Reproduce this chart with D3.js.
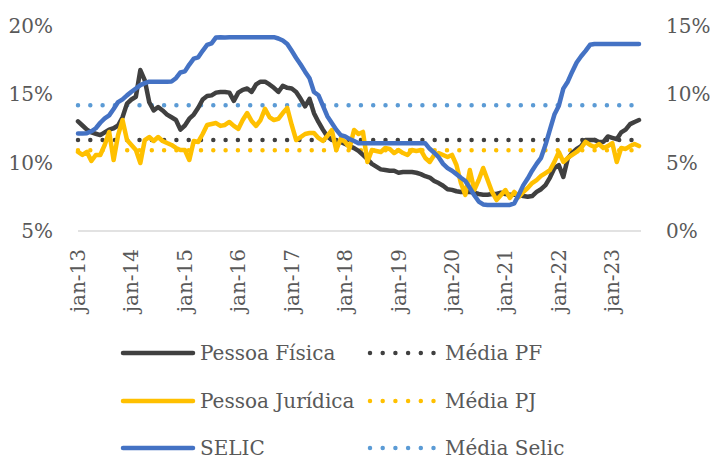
<!DOCTYPE html>
<html><head><meta charset="utf-8">
<script src="https://cdn.jsdelivr.net/npm/d3@7"></script>
<style>
html,body{margin:0;padding:0;background:#fff;}
svg{display:block;font-family:"DejaVu Serif",serif;}
</style></head>
<body>
<svg id="c" width="711" height="459"></svg>
<script>
// Monthly series, jan-13 .. jul-23 (127 points)
const pessoaFisica = [13.0,12.7,12.4,12.2,12.1,12.0,12.2,12.4,12.5,12.7,13.3,14.3,
14.6,14.8,16.75,16.0,14.4,13.8,14.05,13.8,13.5,13.3,13.1,12.4,
12.7,13.2,13.5,14.0,14.6,14.85,14.9,15.1,15.15,15.15,15.1,14.5,
15.1,15.3,15.4,15.15,15.7,15.9,15.9,15.7,15.45,15.15,15.6,15.45,
15.4,15.15,14.65,14.1,14.65,13.6,12.96,12.4,11.9,11.65,11.55,11.5,
11.35,11.2,11.05,10.85,10.55,10.25,9.9,9.7,9.5,9.45,9.4,9.4,
9.25,9.3,9.3,9.3,9.25,9.15,9.0,8.9,8.65,8.5,8.3,8.05,
8.0,7.9,7.85,7.85,7.85,7.8,7.7,7.65,7.65,7.7,7.7,7.8,
7.7,7.65,7.65,7.65,7.55,7.5,7.55,7.85,8.05,8.35,8.9,9.6,
9.8,8.95,10.3,10.7,11.0,11.2,11.65,11.65,11.65,11.5,11.5,11.9,
11.8,11.7,12.2,12.4,12.8,12.96,13.1];
const pessoaJuridica = [10.77,10.55,10.77,10.11,10.55,10.55,11.28,12.23,10.18,12.0,13.1,11.64,
11.28,10.91,9.96,11.64,11.86,11.57,11.86,11.57,11.42,11.28,11.06,10.91,
10.91,10.18,11.57,11.5,12.08,12.74,12.81,12.88,12.67,12.74,12.96,12.67,
12.45,13.1,13.61,13.03,12.67,13.1,13.91,13.32,13.1,13.18,13.61,13.98,
12.74,11.64,11.86,12.08,12.15,12.15,11.79,11.57,11.94,12.37,10.91,11.72,
11.5,11.06,12.37,12.08,12.23,10.04,10.91,10.84,10.77,11.06,10.99,10.69,
10.91,10.69,10.55,10.91,10.84,10.91,10.33,10.04,10.55,10.69,10.55,10.4,
10.55,9.82,8.5,7.63,9.45,7.99,8.72,9.6,8.72,7.85,7.26,7.63,
7.99,7.41,7.85,7.48,7.85,8.14,8.5,8.72,9.02,9.23,9.45,10.04,
10.77,10.04,10.33,10.55,10.77,11.06,11.5,11.28,11.13,11.35,11.06,11.2,
11.42,10.04,11.06,10.99,11.2,11.35,11.2];
const selic = [7.12,7.12,7.14,7.28,7.50,7.90,8.22,8.44,8.90,9.41,9.61,9.90,
10.16,10.40,10.65,10.79,10.90,10.90,10.90,10.90,10.90,10.91,11.15,11.57,
11.65,12.15,12.58,12.68,13.15,13.58,13.69,14.13,14.15,14.13,14.14,14.15,
14.15,14.15,14.15,14.15,14.15,14.15,14.15,14.15,14.15,14.05,13.90,13.65,
13.15,12.63,12.15,11.63,11.15,10.15,9.91,9.15,8.38,7.89,7.40,7.00,
6.90,6.72,6.57,6.40,6.40,6.40,6.40,6.40,6.40,6.40,6.40,6.40,
6.40,6.40,6.40,6.40,6.40,6.40,6.40,6.00,5.71,5.38,4.90,4.59,
4.40,4.15,3.89,3.65,3.15,2.61,2.15,1.94,1.90,1.90,1.90,1.90,
1.90,1.90,2.02,2.65,3.33,3.83,4.40,4.90,5.34,6.29,7.40,8.50,
9.15,10.39,10.90,11.63,12.30,12.76,13.15,13.59,13.65,13.65,13.65,13.65,
13.65,13.65,13.65,13.65,13.65,13.65,13.65];
const mediaPF = 11.65, mediaPJ = 10.9, mediaSelic = 9.17;
const tickLabels = ["jan-13","jan-14","jan-15","jan-16","jan-17","jan-18","jan-19","jan-20","jan-21","jan-22","jan-23"];
const leftTicks = [5,10,15,20];
const rightTicks = [0,5,10,15];
const legendItems = [
  {name:"Pessoa Física", kind:"line", color:"#404040"},
  {name:"Média PF", kind:"dot", color:"#404040"},
  {name:"Pessoa Jurídica", kind:"line", color:"#FFC000"},
  {name:"Média PJ", kind:"dot", color:"#FFC000"},
  {name:"SELIC", kind:"line", color:"#4472C4"},
  {name:"Média Selic", kind:"dot", color:"#5B9BD5"}
];

const svg = d3.select("#c");
const n = selic.length;
const x = d3.scaleLinear().domain([0, n-1]).range([78, 639]);
const yL = d3.scaleLinear().domain([5,20]).range([231, 25.5]);
const yR = d3.scaleLinear().domain([0,15]).range([231, 25.5]);
const textColor = "#595959";

// baseline
svg.append("line").attr("x1", x(0)).attr("x2", 641).attr("y1", yL(5)).attr("y2", yL(5))
  .attr("stroke", "#d9d9d9").attr("stroke-width", 1.3);

// left axis labels
svg.append("g").selectAll("text").data(leftTicks).join("text")
  .attr("x", 53).attr("y", d => yL(d)).attr("dy", "0.35em").attr("text-anchor","end")
  .attr("font-size", 20).attr("fill", textColor).text(d => d + "%");
// right axis labels
svg.append("g").selectAll("text").data(rightTicks).join("text")
  .attr("x", 666).attr("y", d => yR(d)).attr("dy", "0.35em").attr("text-anchor","start")
  .attr("font-size", 20).attr("fill", textColor).text(d => d + "%");
// x labels
svg.append("g").selectAll("text").data(tickLabels).join("text")
  .attr("transform", (d,i) => `translate(${x(i*12)},249) rotate(-90)`)
  .attr("dy", "0.35em").attr("text-anchor","end")
  .attr("font-size", 20).attr("fill", textColor).text(d => d);

// mean dotted lines
function dotted(val, scale, color) {
  svg.append("line").attr("x1", x(0)).attr("x2", x(n-1)).attr("y1", scale(val)).attr("y2", scale(val))
    .attr("stroke", color).attr("stroke-width", 4.5).attr("stroke-linecap","round")
    .attr("stroke-dasharray", "0 12.3");
}
dotted(mediaPF, yL, "#404040");
dotted(mediaPJ, yL, "#FFC000");
dotted(mediaSelic, yR, "#5B9BD5");

function series(vals, scale, color) {
  const line = d3.line().x((d,i) => x(i)).y(d => scale(d));
  svg.append("path").datum(vals).attr("d", line).attr("fill","none")
    .attr("stroke", color).attr("stroke-width", 4.5)
    .attr("stroke-linejoin","round").attr("stroke-linecap","round");
}
series(pessoaFisica, yL, "#404040");
series(pessoaJuridica, yL, "#FFC000");
series(selic, yR, "#4472C4");

// legend
const rowsY = [353, 401, 448];
const colX = [123, 368];
legendItems.forEach((it, k) => {
  const r = Math.floor(k/2), c = k % 2;
  const g = svg.append("g");
  const yy = rowsY[r];
  if (it.kind === "line") {
    g.append("line").attr("x1", colX[c]).attr("x2", colX[c]+70).attr("y1", yy).attr("y2", yy)
      .attr("stroke", it.color).attr("stroke-width", 4.5).attr("stroke-linecap","round");
  } else {
    g.append("line").attr("x1", colX[c]+2).attr("x2", colX[c]+66).attr("y1", yy).attr("y2", yy)
      .attr("stroke", it.color).attr("stroke-width", 4.5).attr("stroke-linecap","round")
      .attr("stroke-dasharray", "0 12.7");
  }
  g.append("text").attr("x", c === 0 ? 200 : 445).attr("y", yy).attr("dy","0.35em")
    .attr("font-size", 20).attr("fill", textColor).text(it.name);
});
</script>
</body></html>
